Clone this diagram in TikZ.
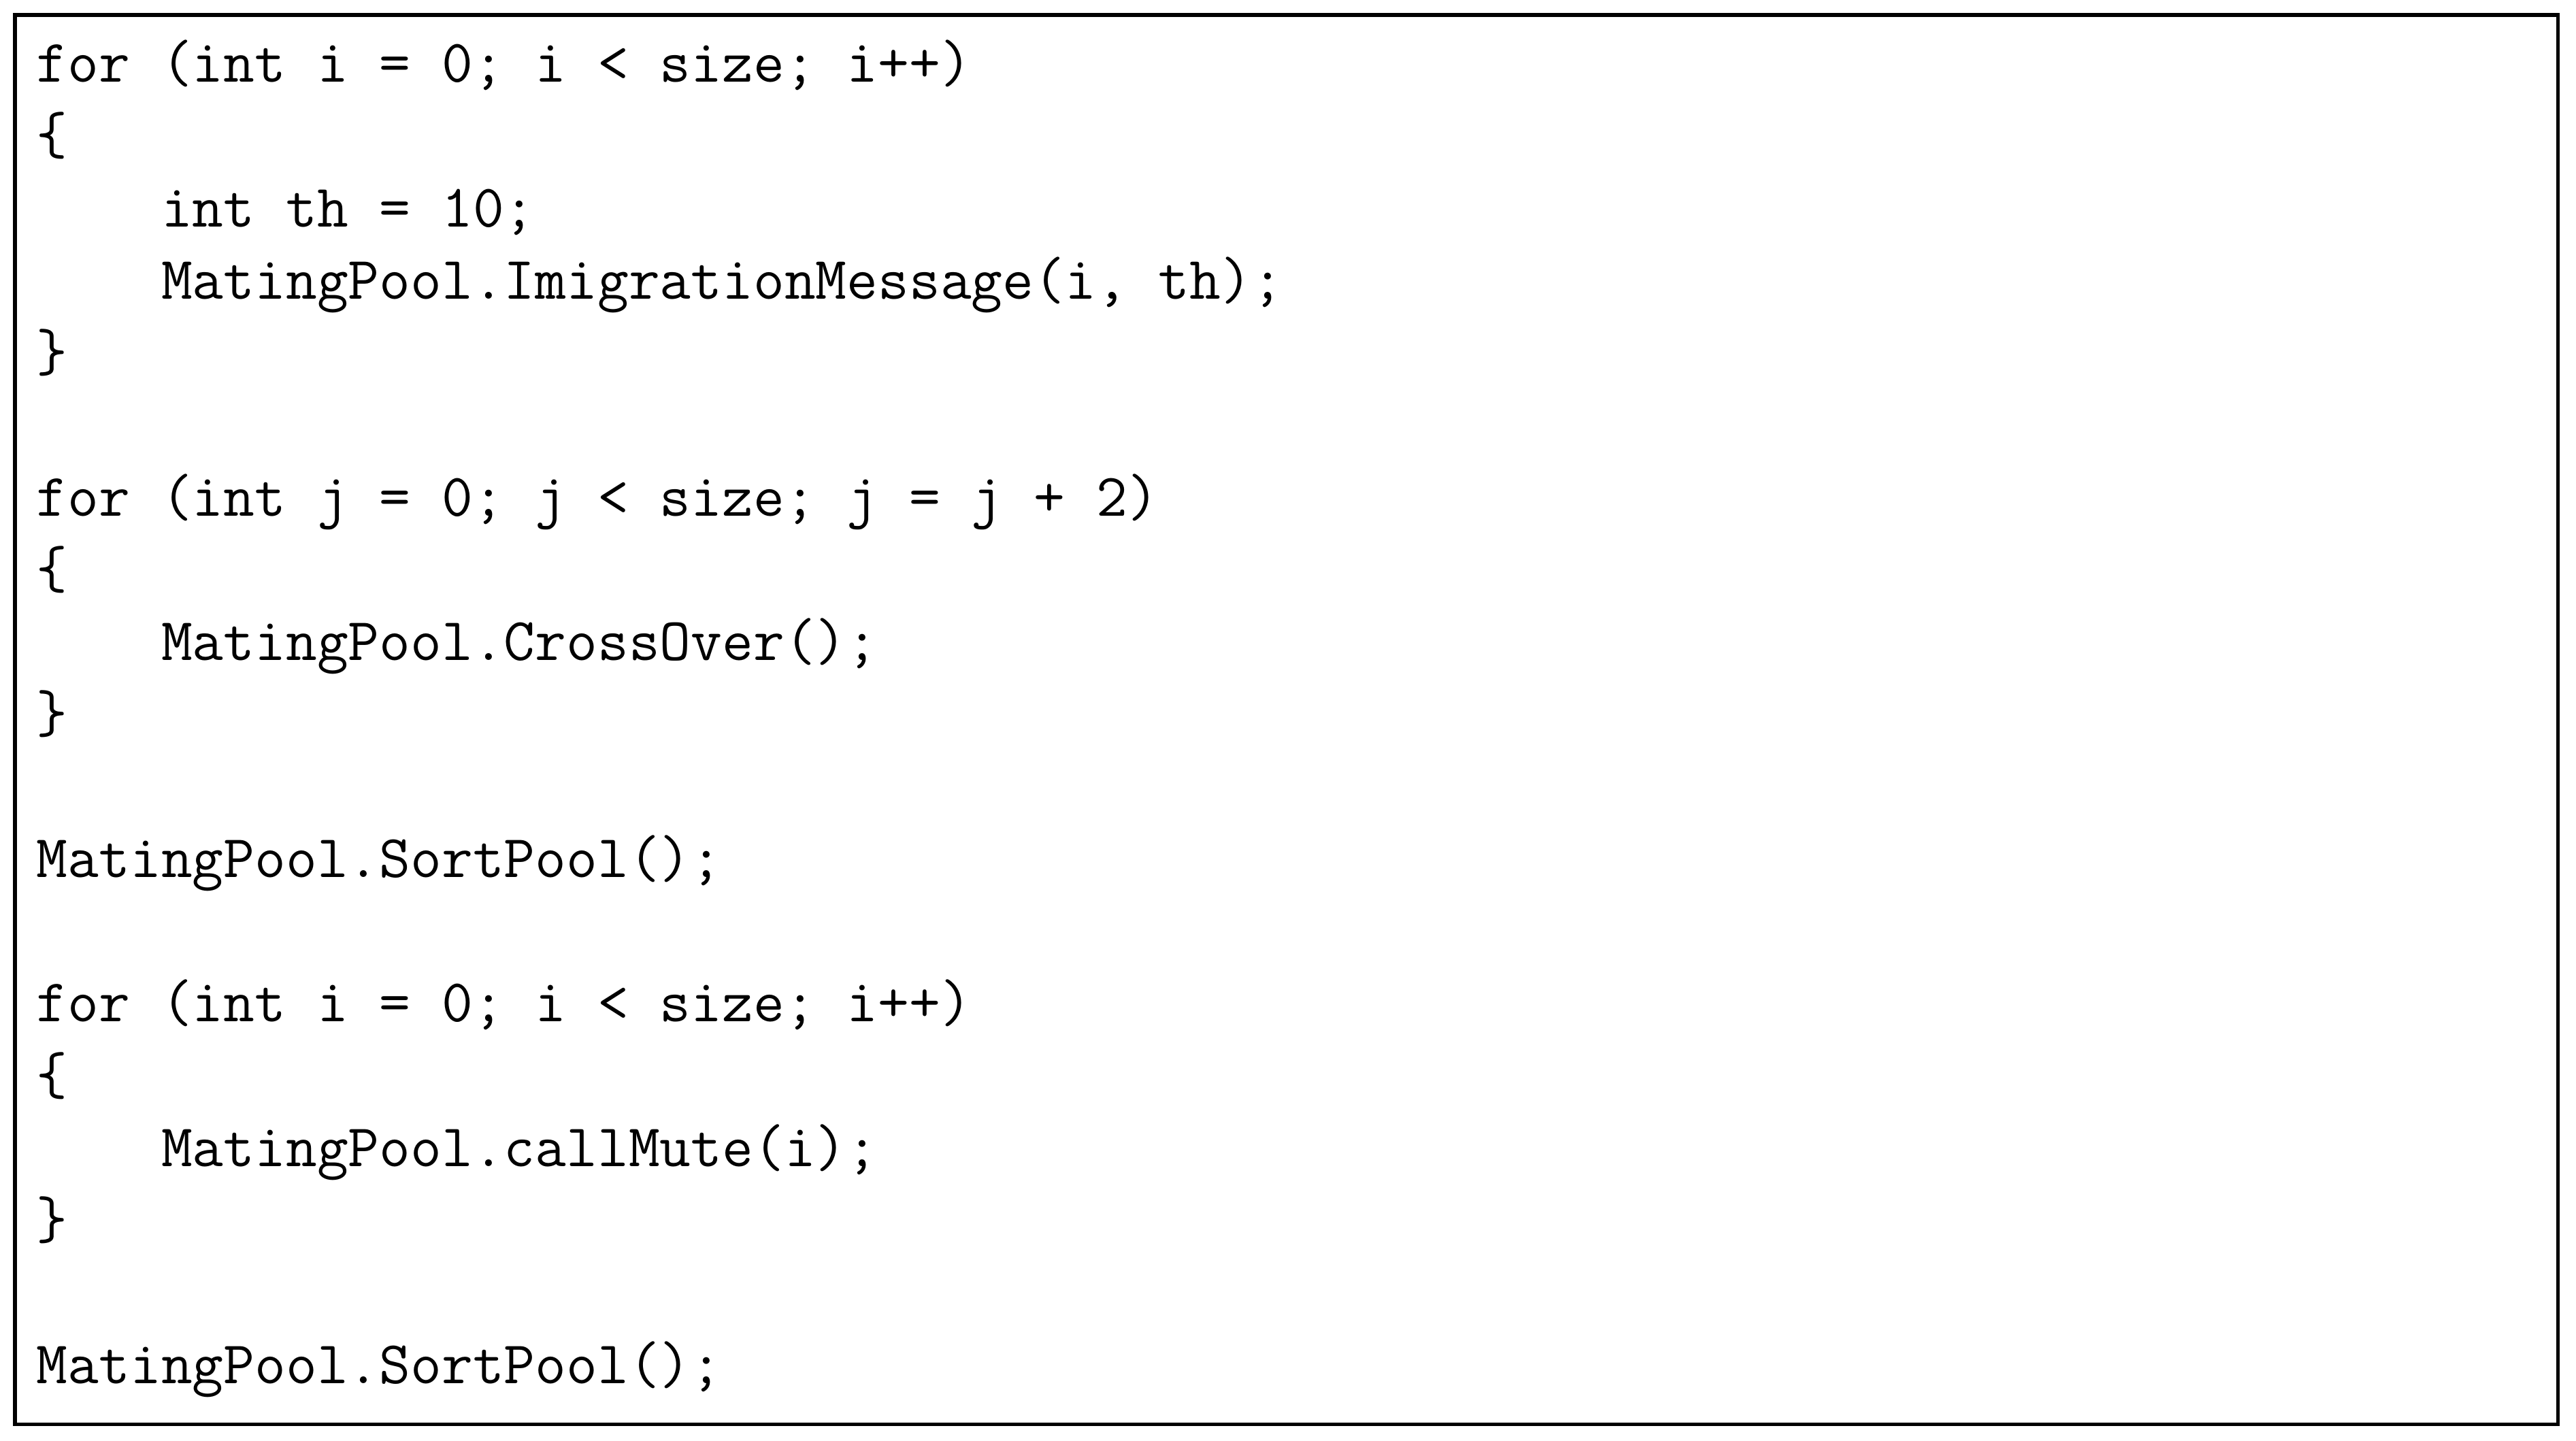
\documentclass[tikz,border=0pt]{standalone}
\usepackage{fontspec}
\begin{document}
\begin{tikzpicture}[x=0.024145cm,y=-0.024145cm,
  code/.style={anchor=base west,inner sep=0pt,font=\fontsize{25.3}{30}\ttfamily}]
\useasboundingbox (0,0) rectangle (1568,877);
\draw[line width=1.6pt] (9,9) rectangle (1557,867);
\node[code] (l1) at (22,50) {for (int i = 0; i < size; i++)};
\node[code] (l2) at (22,94) {\{};
\node[code] (l3) at (22,138) {\ \ \ \ int th = 10;};
\node[code] (l4) at (22,182) {\ \ \ \ MatingPool.ImigrationMessage(i, th);};
\node[code] (l5) at (22,226) {\}};
\node[code] (l6) at (22,314) {for (int j = 0; j < size; j = j + 2)};
\node[code] (l7) at (22,358) {\{};
\node[code] (l8) at (22,402) {\ \ \ \ MatingPool.CrossOver();};
\node[code] (l9) at (22,446) {\}};
\node[code] (l10) at (22,534) {MatingPool.SortPool();};
\node[code] (l11) at (22,622) {for (int i = 0; i < size; i++)};
\node[code] (l12) at (22,666) {\{};
\node[code] (l13) at (22,710) {\ \ \ \ MatingPool.callMute(i);};
\node[code] (l14) at (22,754) {\}};
\node[code] (l15) at (22,842) {MatingPool.SortPool();};
\end{tikzpicture}
\end{document}
